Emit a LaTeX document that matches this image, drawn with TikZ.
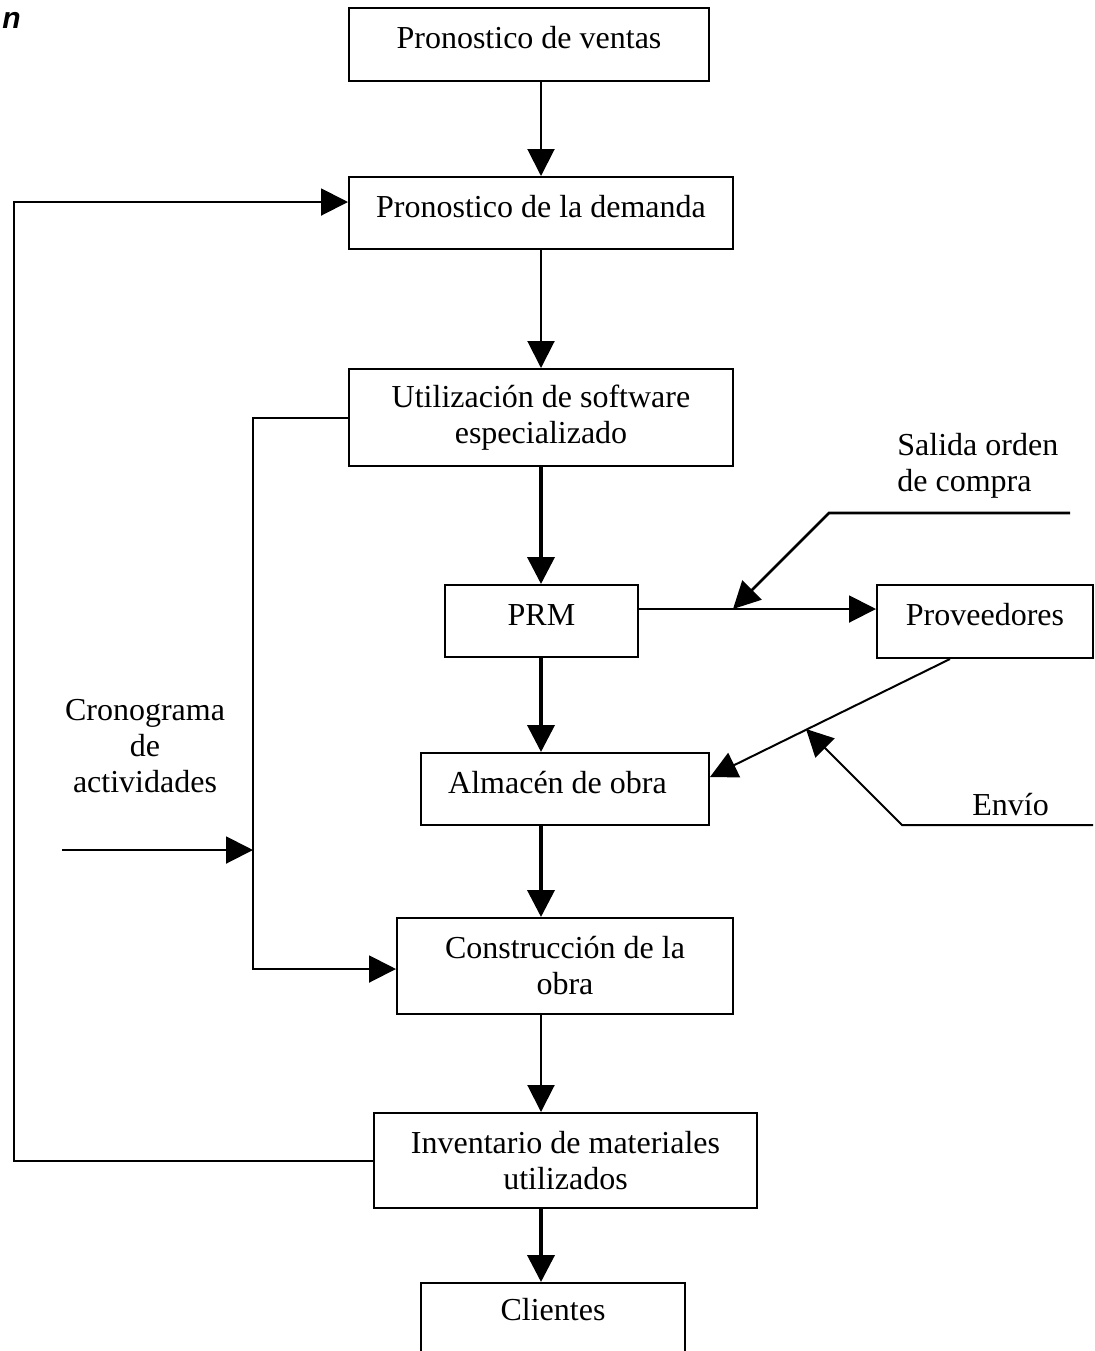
\documentclass[tikz,border=0pt]{standalone}
\usepackage{fontspec}
\setmainfont{Liberation Serif}
\setsansfont{Liberation Sans}
\usetikzlibrary{arrows.meta}

\begin{document}
\begin{tikzpicture}[x=0.5pt,y=-0.5pt,
  box/.style={draw, line width=1pt, inner sep=0pt, align=center, font=\fontsize{16}{18}\selectfont},
  one/.style={box, text height=11pt, text depth=7pt},
  tag/.style={inner sep=0pt, font=\fontsize{16}{18}\selectfont},
  arr/.style={-{Triangle[length=13.5pt,width=13.5pt]}, line width=1pt},
  fat/.style={arr, line width=1.9pt}]
\useasboundingbox (0,0) rectangle (1095,1351);
\coordinate (spine) at (541,0);
\coordinate (rail) at (253,0);
\coordinate (back) at (14,0);

\node[anchor=base west, inner sep=0pt, font=\sffamily\bfseries\itshape\fontsize{15}{18}\selectfont] (frag) at (2,28) {n};

% main chain
\node[one, minimum width=180pt, minimum height=36.5pt] (ventas) at (529,44.5) {Pronostico de ventas};
\node[one, minimum width=192pt, minimum height=36pt] (demanda) at (541,213) {Pronostico de la demanda};
\node[box, minimum width=192pt, minimum height=48.5pt] (soft) at (541,417.5) {Utilización de software\\especializado};
\node[one, minimum width=96.5pt, minimum height=36pt] (prm) at (541.5,621) {PRM};
\node[one, minimum width=108pt, minimum height=36.5pt] (prov) at (985,621.5) {Proveedores};
\node[one, minimum width=144pt, minimum height=36pt] (alm) at (565,789) {\hspace*{-7.5pt}Almacén de obra};
\node[box, minimum width=168pt, minimum height=48pt] (cons) at (565,966) {Construcción de la\\obra};
\node[box, minimum width=191.5pt, minimum height=47.5pt] (inv) at (565.5,1160.5) {Inventario de materiales\\utilizados};
\node[box, anchor=north, minimum width=132pt, text height=18.5pt, text depth=30pt] (cli) at (553,1282) {Clientes};

\draw[arr] (ventas.south -| spine) -- (demanda.north -| spine);
\draw[arr] (demanda.south -| spine) -- (soft.north -| spine);
\draw[fat] (soft.south -| spine) -- (prm.north -| spine);
\draw[fat] (prm.south -| spine) -- (alm.north -| spine);
\draw[fat] (alm.south -| spine) -- (cons.north -| spine);
\draw[arr] (cons.south -| spine) -- (inv.north -| spine);
\draw[fat] (inv.south -| spine) -- (cli.north -| spine);

% feedback loop
\draw[arr] (inv.west) -- (back |- inv.west) |- ([yshift=5.5pt]demanda.west);

% cronograma
\node[tag, align=center] (crono) at (145,746) {Cronograma\\de\\actividades};
\coordinate (crin) at (62,850);
\draw[arr] (soft.west) -| (rail |- 0,969) -- ([yshift=-1.5pt]cons.west);
\draw[arr] (crin) -- (crin -| rail);

% proveedores
\draw[arr] ([yshift=6pt]prm.east) -- ([yshift=6pt]prm.east -| prov.west);
\node[tag, anchor=west, align=left] (salida) at (897,466) {Salida orden\\de compra};
\coordinate (ordin) at (1070,513);
\coordinate (ordknee) at (829,513);
\coordinate (ordtip) at (733,609);
\draw[arr, line width=1.3pt] (ordin) -- (ordknee) -- (ordtip);

\draw[arr] ([xshift=-17.5pt]prov.south) -- ([yshift=6pt]alm.east);
\node[tag, anchor=base west] (envio) at (972,815) {Envío};
\coordinate (envin) at (1093,825);
\coordinate (envknee) at (902,825);
\coordinate (envtip) at (806,729);
\draw[arr] (envin) -- (envknee) -- (envtip);
\end{tikzpicture}
\end{document}
